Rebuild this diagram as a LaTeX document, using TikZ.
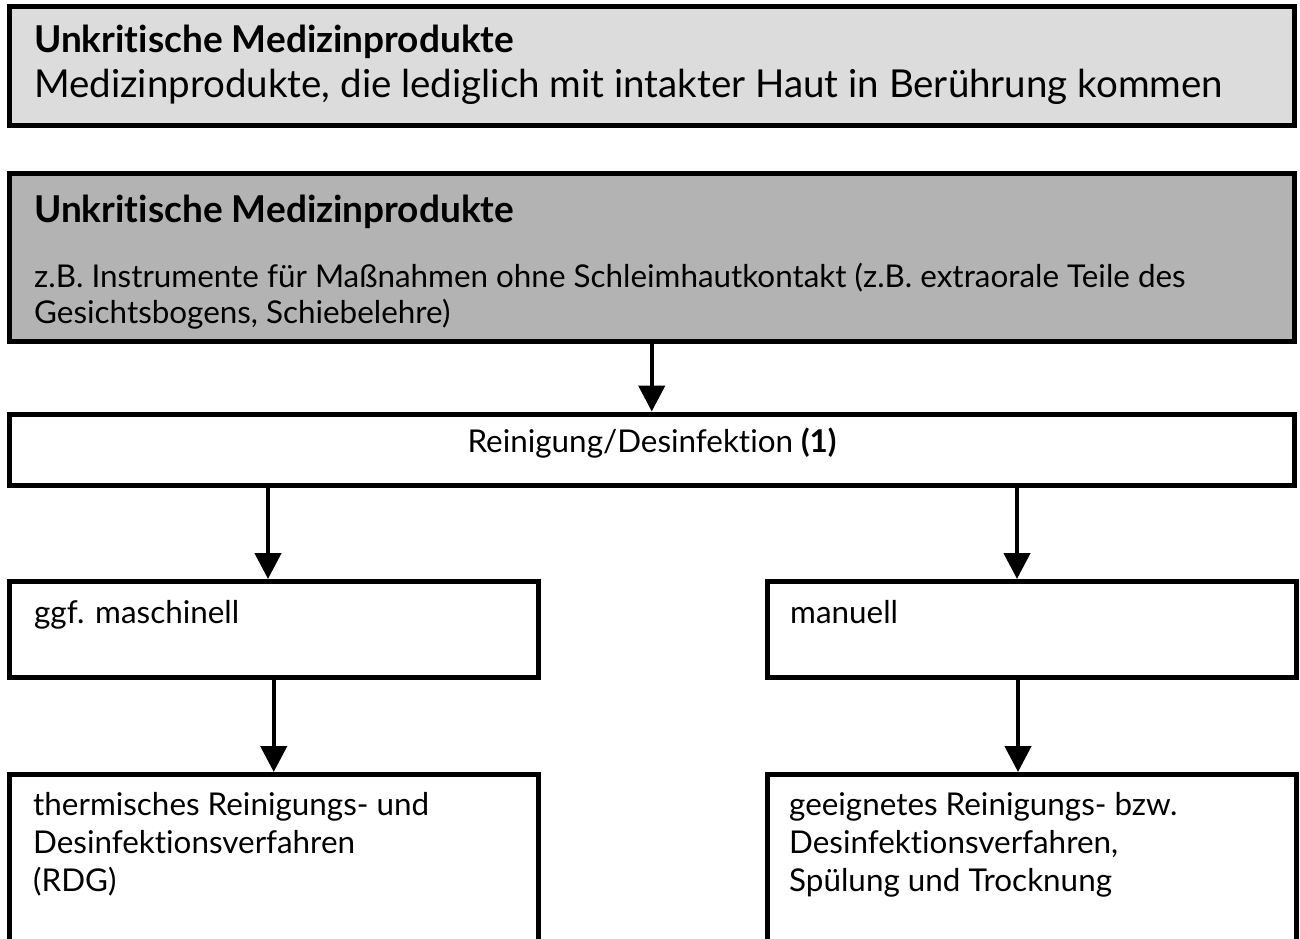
\documentclass[tikz,border=0pt]{standalone}
\usepackage{fontspec}
\setmainfont{Lato}[Ligatures={NoCommon}]
\usetikzlibrary{arrows.meta,calc}
\newcommand\titletxt{\fontsize{37}{40}\selectfont\bfseries}
\newcommand\bigtxt{\fontsize{38.5}{42}\selectfont}
\newcommand\normtxt{\fontsize{31.4}{38}\selectfont}
\newcommand\bodytxt{\fontsize{31.4}{36}\selectfont}
\definecolor{lightfill}{HTML}{DCDCDC}
\definecolor{darkfill}{HTML}{B3B3B3}
\begin{document}
\begin{tikzpicture}[x=1pt,y=-1pt,
  box/.style={draw=black, line width=5pt, rectangle, inner sep=0pt},
  txt/.style={inner sep=0pt, anchor=base west, align=left},
  arr/.style={line width=4.5pt, -{Triangle[length=26pt,width=26pt]}}]
\useasboundingbox (0,0) rectangle (1300,938);
\clip (0,0) rectangle (1300,938);
\fill[white] (0,0) rectangle (1300,938);
% boxes
\node[box, fill=lightfill, minimum width=1285.5pt, minimum height=119pt] (b1) at (651.75,65.5) {};
\node[box, fill=darkfill, minimum width=1285.5pt, minimum height=168.5pt] (b2) at (651.75,257.25) {};
\node[box, fill=white, minimum width=1285.5pt, minimum height=71.5pt] (b3) at (651.75,449.75) {};
\node[box, minimum width=529.5pt, minimum height=96pt] (b4) at (273.75,629.5) {};
\node[box, minimum width=529pt, minimum height=96pt] (b5) at (1031.5,629.5) {};
\node[box, minimum width=529.5pt, minimum height=185.5pt] (b6) at (273.75,867.25) {};
\node[box, minimum width=529pt, minimum height=185.5pt] (b7) at (1031.5,867.25) {};
% texts (multi-line nodes: base = baseline of the last line)
\node[txt, font=\titletxt] (t1a) at (34,52) {Unkritische Medizinprodukte};
\node[txt, font=\bigtxt] (t1b) at (34,97) {Medizinprodukte, die lediglich mit intakter Haut in Berührung kommen};
\node[txt, font=\titletxt] (t2a) at (34,222) {Unkritische Medizinprodukte};
\node[txt, font=\bodytxt] (t2b) at (34,323) {z.B. Instrumente für Maßnahmen ohne Schleimhautkontakt (z.B. extraorale Teile des\\Gesichtsbogens, Schiebelehre)};
\node[inner sep=0pt, anchor=base, font=\normtxt] (t3) at (652,452) {Reinigung/Desinfektion \textbf{(1)}};
\node[txt, font=\normtxt] (t4) at (34,623) {ggf. maschinell};
\node[txt, font=\normtxt] (t5) at (790,623) {manuell};
\node[txt, font=\normtxt] (t6) at (33,891) {thermisches Reinigungs- und\\Desinfektionsverfahren\\(RDG)};
\node[txt, font=\normtxt] (t7) at (789,891) {geeignetes Reinigungs- bzw.\\Desinfektionsverfahren,\\Spülung und Trocknung};
% connectors
\coordinate (xa) at (268,0);
\coordinate (xb) at (1017,0);
\coordinate (xc) at (1018,0);
\draw[arr] (b2.south) -- (b3.north);
\draw[arr] (b3.south -| xa) -- (b4.north -| xa);
\draw[arr] (b3.south -| xb) -- (b5.north -| xb);
\draw[arr] (b4.south) -- (b6.north);
\draw[arr] (b5.south -| xc) -- (b7.north -| xc);
\end{tikzpicture}
\end{document}
